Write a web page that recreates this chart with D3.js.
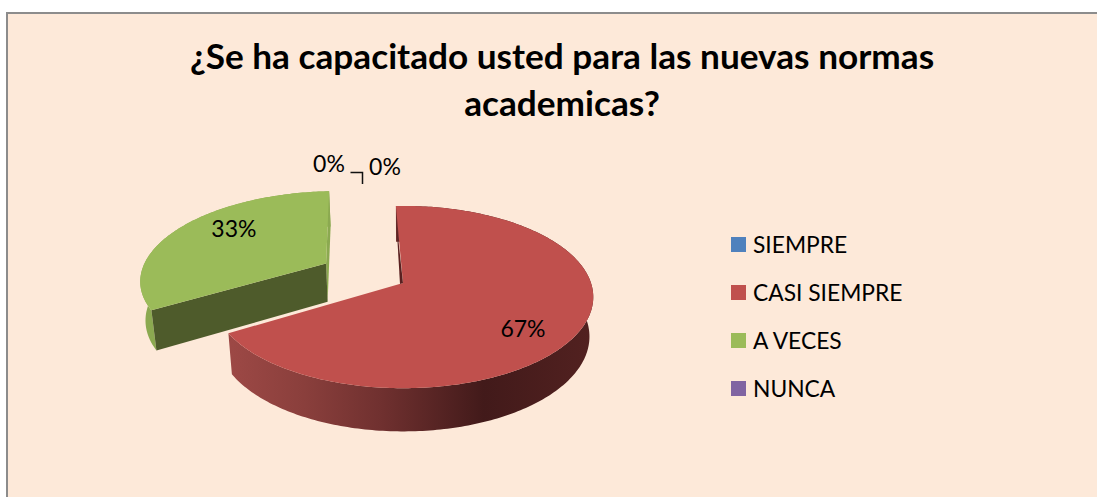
<!DOCTYPE html>
<html><head><meta charset="utf-8">
<script src="https://cdn.jsdelivr.net/npm/d3@7/dist/d3.min.js"></script>
<style>html,body{margin:0;padding:0;background:#fff;overflow:hidden}svg{display:block}text{font-family:Lato,Carlito,sans-serif;fill:#000}</style>
</head><body><div id="c"></div>
<script>
const categories = ["SIEMPRE","CASI SIEMPRE","A VECES","NUNCA"];
const values = [0,67,33,0];
const colors = ["#4F81BD","#C0504D","#9BBB59","#8064A2"];
const titleLines = ["¿Se ha capacitado usted para las nuevas normas","academicas?"];
const explode = [0,0,0.48,0];

const W=1097,H=497;
const svg=d3.select("#c").append("svg").attr("width",W).attr("height",H);
svg.append("rect").attr("x",7).attr("y",13).attr("width",W+20).attr("height",H+20)
  .attr("fill","#FDE9D9").attr("stroke","#8c8c8c").attr("stroke-width",2);

titleLines.forEach((t,i)=>svg.append("text").attr("x",562).attr("y",69+i*47)
  .attr("text-anchor","middle").attr("font-size",35.2).attr("font-weight",700).text(t));

// perspective pie plane
const cx=403,cy=283,ax=188,ay=89,p=0.154;
const proj=(u,v)=>{const w=1/(1-p*v);return [cx+ax*u*w,cy+ay*v*w];};
const floor=([x,y])=>[cx+(x-cx)*0.98,y+39+0.04*(y-cy)];
const pie=d3.pie().sort(null).startAngle(-2.5*Math.PI/180).endAngle((360-2.5)*Math.PI/180);
const arcs=pie(values);
const line=d3.line();

const slices=arcs.map((a,i)=>{
  const mid=(a.startAngle+a.endAngle)/2,e=explode[i];
  const ox=e*Math.sin(mid),oy=-e*Math.cos(mid);
  const pt=(th,r=1)=>proj(ox+r*Math.sin(th),oy-r*Math.cos(th));
  const n=Math.max(2,Math.ceil((a.endAngle-a.startAngle)*60));
  const rim=d3.range(n+1).map(k=>pt(a.startAngle+(a.endAngle-a.startAngle)*k/n));
  return {a,i,mid,pt,rim,apex:pt(0,0)};
});

const defs=svg.append("defs");
const g=defs.append("linearGradient").attr("id","redSide").attr("gradientUnits","userSpaceOnUse")
  .attr("x1",232).attr("x2",592).attr("y1",0).attr("y2",0);
[[0,"#9c4845"],[0.2,"#8a3f3c"],[0.42,"#6f302f"],[0.7,"#421a1a"],[1,"#522120"]]
  .forEach(s=>g.append("stop").attr("offset",s[0]).attr("stop-color",s[1]));

const visible=slices.filter(s=>s.a.value>0);
// outer walls and cut faces
visible.forEach(s=>{
  const floorRim=s.rim.map(floor).reverse();
  svg.append("path").attr("d",line(s.rim.concat(floorRim))+"Z")
    .attr("fill",s.i===1?"url(#redSide)":"#8BA950");
});
const green=slices[2];
const gEnd=green.rim[green.rim.length-1],gStart=green.rim[0];
svg.append("path").attr("d",line([gEnd,floor(gEnd),floor(green.apex),green.apex])+"Z").attr("fill","#8BA950");
svg.append("path").attr("d",line([gStart,floor(gStart),floor(green.apex),green.apex])+"Z").attr("fill","#4E5B2B");
// top faces
visible.forEach(s=>{
  svg.append("path").attr("d",line([s.apex].concat(s.rim))+"Z").attr("fill",colors[s.i]);
});
// thin dark cut of the big slice
const red=slices[1],rT=red.rim[0],rA=red.apex;
svg.append("path").attr("d",line([[rT[0]+0.3,rT[1]+14],rA,[rA[0]-3,rA[1]+1]])+"Z").attr("fill","#5a2020");

// labels
const lab=(x,y,t)=>svg.append("text").attr("x",x).attr("y",y).attr("text-anchor","middle").attr("font-size",23).text(t);
const fmt=d3.format(".0%");
const total=d3.sum(values);
const rp=red.pt(red.mid,0.72),gp=green.pt(green.mid,0.6);
lab(rp[0]-6,rp[1]+22,fmt(values[1]/total));
lab(gp[0]-3,gp[1]-4,fmt(values[2]/total));
lab(329,172,fmt(values[0]/total));
lab(385,175,fmt(values[3]/total));
svg.append("path").attr("d","M350.5,172.5H362.5V184").attr("fill","none").attr("stroke","#111").attr("stroke-width",1.5);

// legend
const ly=d3.scalePoint().domain(categories).range([244.5,388.5]);
categories.forEach((c,i)=>{
  svg.append("rect").attr("x",731).attr("y",ly(c)-7.5).attr("width",15).attr("height",15).attr("fill",colors[i]);
  svg.append("text").attr("x",753).attr("y",ly(c)+8).attr("font-size",22.8).text(c);
});
</script></body></html>
